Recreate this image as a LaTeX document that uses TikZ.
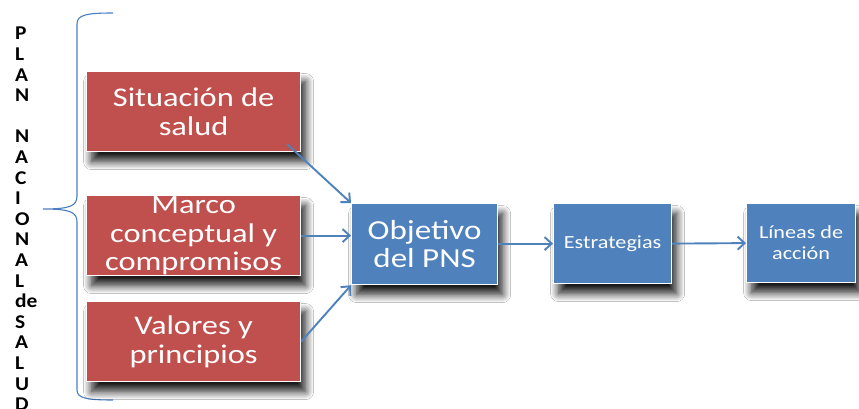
\documentclass[tikz,border=0pt]{standalone}
\usepackage{fontspec}
\setmainfont{Carlito}
\newfontfamily\boxfont[FakeStretch=1.2]{Carlito}
\newfontfamily\letterfont[FakeStretch=1.1]{Carlito}
\usetikzlibrary{arrows.meta,shadows.blur}
\definecolor{redbox}{HTML}{C0504D}
\definecolor{bluebox}{HTML}{4F81BD}
\definecolor{bracecol}{HTML}{4A7EC0}
\begin{document}
\begin{tikzpicture}[x=1pt,y=-1pt,
  box/.style={draw=white, line width=1.2pt, anchor=north west, inner sep=0pt,
    align=center, text=white,
    blur shadow={shadow xshift=5pt, shadow yshift=-10pt, shadow blur steps=12, shadow blur radius=8pt, shadow opacity=90}},
  redb/.style={box, fill=redbox, minimum width=214pt, minimum height=80pt,
    font=\boxfont\fontsize{27}{28.5}\selectfont},
  bigblue/.style={box, fill=bluebox, font=\boxfont\fontsize{27.5}{28}\selectfont},
  smallblue/.style={box, fill=bluebox, font=\boxfont\fontsize{18.5}{21}\selectfont},
  conn/.style={draw=bluebox, line width=1.9pt, -{Straight Barb[length=7pt,width=13pt,line width=1.9pt]}},
  bracel/.style={draw=bracecol, line width=1.1pt}
]
\useasboundingbox[fill=white] (0,0) rectangle (859,409);

% vertical title
\node[anchor=north west, inner sep=0pt, align=left, text=black,
  font=\letterfont\bfseries\fontsize{19.5}{20.6}\selectfont] (title) at (15,27)
  {P\\L\\A\\N\\~\\N\\A\\C\\I\\O\\N\\A\\L\\de\\S\\A\\L\\U\\D};

% brace
\coordinate (btop) at (113,13);
\coordinate (btip) at (43,209);
\coordinate (bbot) at (113,400);
\draw[bracel] (btop) .. controls (86,13) and (77,15) .. (77,24) -- (77,196)
  .. controls (77,206) and (70,209) .. (btip)
  .. controls (70,209) and (77,212) .. (77,222) -- (77,390)
  .. controls (77,398) and (86,400) .. (bbot);

% boxes
\node[redb] (sit) at (86,71) {Situación de\\salud};
\node[redb] (marco) at (86,195) {Marco\\conceptual y\\compromisos};
\node[redb] (val) at (86,301) {Valores y\\principios};

\node[bigblue, minimum width=146pt, minimum height=81pt] (obj) at (351,203) {Objetivo\\del PNS};
\node[smallblue, minimum width=118pt, minimum height=80pt] (estr) at (553,203) {Estrategias};
\node[smallblue, minimum width=109pt, minimum height=79pt] (lin) at (746,203) {Líneas de\\acción};

% connectors
\draw[conn] ([xshift=-14pt,yshift=8pt]sit.south east) -- (obj.north west);
\draw[conn] (marco.east) -- (obj.west |- marco.east);
\draw[conn] (val.east) -- (obj.south west);
\draw[conn] (obj.east |- estr.west) -- (estr.west);
\draw[conn] (estr.east) -- (lin.west);
\end{tikzpicture}
\end{document}
